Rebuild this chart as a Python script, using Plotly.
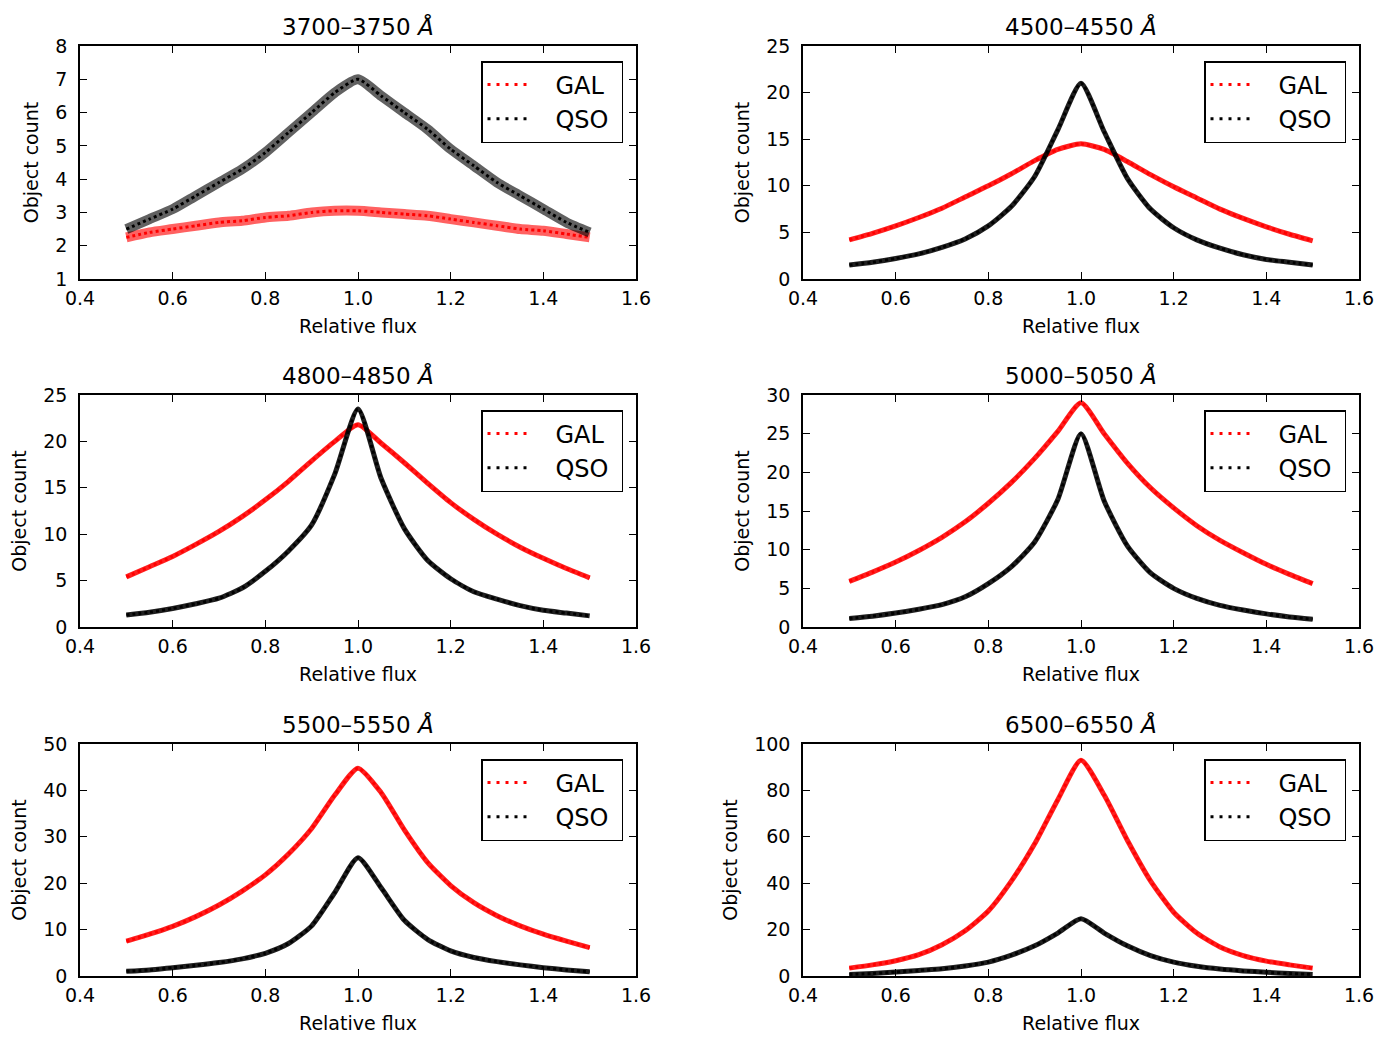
import plotly.graph_objects as go

flux = [0.50, 0.55, 0.60, 0.65, 0.70, 0.75, 0.80, 0.85, 0.90, 0.95, 1.00,
        1.05, 1.10, 1.15, 1.20, 1.25, 1.30, 1.35, 1.40, 1.45, 1.50]

titles = ["3700–3750", "4500–4550", "4800–4850", "5000–5050", "5500–5550", "6500–6550"]

gal_3700 = [2.25, 2.4, 2.5, 2.6, 2.7, 2.75, 2.85, 2.9, 3.0, 3.05, 3.05,
            3.0, 2.95, 2.9, 2.8, 2.7, 2.6, 2.5, 2.45, 2.35, 2.25]
qso_3700 = [2.5, 2.8, 3.1, 3.5, 3.9, 4.3, 4.8, 5.4, 6.0, 6.6, 7.0,
            6.5, 6.0, 5.5, 4.9, 4.4, 3.9, 3.5, 3.1, 2.7, 2.4]

gal_4500 = [4.2, 4.9, 5.7, 6.6, 7.6, 8.8, 10.0, 11.3, 12.7, 13.9, 14.5,
            13.9, 12.6, 11.2, 9.9, 8.7, 7.5, 6.5, 5.6, 4.8, 4.1]
qso_4500 = [1.5, 1.8, 2.2, 2.7, 3.4, 4.3, 5.7, 7.8, 11.0, 16.0, 21.0,
            15.8, 10.8, 7.5, 5.5, 4.2, 3.3, 2.6, 2.1, 1.8, 1.5]

gal_4800 = [5.4, 6.5, 7.6, 8.9, 10.3, 11.9, 13.7, 15.7, 17.9, 20.0, 21.8,
            19.8, 17.7, 15.5, 13.4, 11.6, 10.0, 8.6, 7.4, 6.3, 5.3]
qso_4800 = [1.3, 1.6, 2.0, 2.5, 3.1, 4.2, 6.0, 8.2, 11.0, 16.5, 23.5,
            16.0, 10.6, 7.2, 5.2, 3.8, 3.0, 2.3, 1.8, 1.5, 1.2]

gal_5000 = [5.9, 7.1, 8.4, 9.9, 11.6, 13.6, 16.0, 18.7, 21.8, 25.3, 29.0,
            25.0, 21.2, 18.0, 15.4, 13.1, 11.2, 9.6, 8.1, 6.8, 5.6]
qso_5000 = [1.1, 1.4, 1.8, 2.3, 2.9, 3.9, 5.6, 7.8, 11.0, 16.5, 25.0,
            16.3, 10.5, 7.0, 5.0, 3.7, 2.8, 2.2, 1.7, 1.3, 1.0]

gal_5500 = [7.5, 9.0, 10.7, 12.8, 15.3, 18.3, 21.8, 26.3, 31.8, 39.0, 44.8,
            39.5, 31.5, 24.5, 19.5, 15.8, 13.0, 10.8, 9.0, 7.5, 6.1]
qso_5500 = [1.0, 1.3, 1.8, 2.3, 2.9, 3.7, 4.9, 7.0, 10.8, 18.0, 25.5,
            19.0, 12.0, 7.9, 5.4, 4.0, 3.1, 2.4, 1.8, 1.3, 0.9]

gal_6500 = [3.4, 4.8, 6.6, 9.2, 13.5, 19.5, 28.0, 41.0, 57.0, 76.0, 93.0,
            78.0, 58.5, 41.0, 27.5, 18.5, 12.5, 8.8, 6.4, 4.8, 3.4]
qso_6500 = [0.7, 1.1, 1.7, 2.4, 3.1, 4.3, 6.0, 9.0, 13.0, 18.5, 24.7,
            18.5, 13.0, 8.8, 6.0, 4.2, 3.0, 2.2, 1.6, 1.1, 0.7]

gal_series = [gal_3700, gal_4500, gal_4800, gal_5000, gal_5500, gal_6500]
qso_series = [qso_3700, qso_4500, qso_4800, qso_5000, qso_5500, qso_6500]

y_ranges = [[1, 8], [0, 25], [0, 25], [0, 30], [0, 50], [0, 100]]
y_dticks = [1, 5, 5, 5, 10, 20]

W, H = 1391, 1052
col_px = [(80, 636), (803, 1359)]
row_px = [(46, 279), (395, 627), (744, 976)]
band_width = [10, 5, 5, 5, 5, 5]
band_alpha = [0.62, 0.88, 0.88, 0.88, 0.88, 0.88]
rgb = {"red": "255,0,0", "black": "0,0,0"}

FONT = "DejaVu Sans, Arial, sans-serif"
fig = go.Figure()
layout = dict(
    width=W, height=H, margin=dict(l=0, r=0, t=0, b=0, autoexpand=False),
    paper_bgcolor="white", plot_bgcolor="white",
    font=dict(family=FONT, color="black", size=18),
    annotations=[],
)

for i in range(6):
    r, c = divmod(i, 2)
    k = i + 1
    xa = "xaxis" if k == 1 else f"xaxis{k}"
    ya = "yaxis" if k == 1 else f"yaxis{k}"
    xref = "x" if k == 1 else f"x{k}"
    yref = "y" if k == 1 else f"y{k}"
    lg = "legend" if k == 1 else f"legend{k}"
    x0, x1 = col_px[c]
    y0, y1 = row_px[r]
    axis_common = dict(
        showline=True, linecolor="black", linewidth=1.5, mirror="ticks",
        ticks="inside", ticklen=7, tickwidth=1.2, tickcolor="black",
        showgrid=False, zeroline=False, automargin=False,
        tickfont=dict(family=FONT, size=19, color="black"),
    )
    layout[xa] = dict(
        axis_common, domain=[x0 / W, x1 / W], anchor=yref,
        range=[0.4, 1.6], tick0=0.4, dtick=0.2, tickformat=".1f",
        ticklabelstandoff=1,
        title=dict(text="Relative flux", font=dict(family=FONT, size=19), standoff=12),
    )
    layout[ya] = dict(
        axis_common, domain=[1 - y1 / H, 1 - y0 / H], anchor=xref,
        range=y_ranges[i], tick0=0, dtick=y_dticks[i],
        ticklabelstandoff=7,
        title=dict(text="Object count", font=dict(family=FONT, size=19), standoff=12),
    )
    layout[lg] = dict(
        x=(x1 - 13) / W, y=1 - (y0 + 15) / H, xanchor="right", yanchor="top",
        bgcolor="white", bordercolor="black", borderwidth=1.5,
        font=dict(family=FONT, size=24, color="black"),
        itemwidth=40, tracegroupgap=0, traceorder="normal",
    )
    layout["annotations"].append(dict(
        text=f"{titles[i]} <i>Å</i>", x=(x0 + x1) / 2 / W, y=1 - (y0 - 4) / H,
        xref="paper", yref="paper", xanchor="center", yanchor="bottom",
        showarrow=False, font=dict(family=FONT, size=23, color="black"),
    ))
    for name, ys, color in (("GAL", gal_series[i], "red"), ("QSO", qso_series[i], "black")):
        # spread of the noisy band
        fig.add_trace(go.Scatter(
            x=flux, y=ys, name=name, mode="lines",
            line=dict(color=f"rgba({rgb[color]},{band_alpha[i]})", width=band_width[i],
                      shape="spline", smoothing=0.6),
            xaxis=xref, yaxis=yref, legend=lg, showlegend=False, hoverinfo="skip",
        ))
        # dotted series
        fig.add_trace(go.Scatter(
            x=flux, y=ys, name=name, mode="lines",
            line=dict(color=color, width=3, dash="3px,3px", shape="spline", smoothing=0.6),
            xaxis=xref, yaxis=yref, legend=lg, showlegend=False,
        ))
        # legend entry (dotted sample as in the reference)
        fig.add_trace(go.Scatter(
            x=[None], y=[None], name="\u00a0\u00a0\u00a0" + name + "\u00a0", mode="lines",
            line=dict(color=color, width=3, dash="3px,6px"),
            xaxis=xref, yaxis=yref, legend=lg, showlegend=True, hoverinfo="skip",
        ))

fig.update_layout(**layout)
fig.write_html("out.html")
